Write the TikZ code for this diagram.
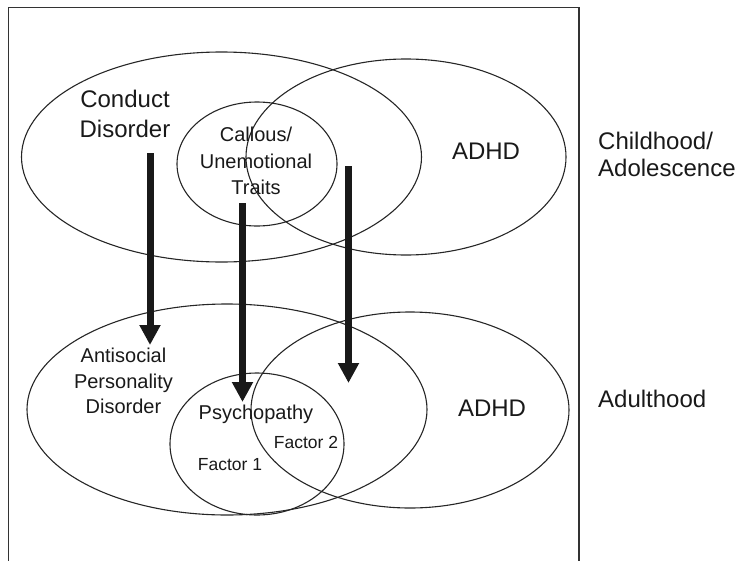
\documentclass[tikz,border=0pt]{standalone}
\usepackage{fontspec}
\setmainfont{Liberation Sans}
\usetikzlibrary{shapes.geometric,arrows.meta}
\tikzset{
  venn/.style={ellipse, draw=black!85, line width=1.1pt, inner sep=0pt, fill=none},
  big/.style={font=\fontsize{24}{28}\selectfont, inner sep=0pt, anchor=base, text=black!90},
  mid/.style={font=\fontsize{20}{24}\selectfont, inner sep=0pt, anchor=base, text=black!90},
  small/.style={font=\fontsize{17.5}{21}\selectfont, inner sep=0pt, anchor=base, text=black!90},
  bigleft/.style={big, anchor=base west},
  flow/.style={line width=7pt, black!90, -{Triangle[length=20pt,width=20pt]}}
}
\begin{document}
\begin{tikzpicture}[x=1pt,y=-1pt]
\useasboundingbox (0,0) rectangle (744,560);
% frame
\draw[line width=1.5pt, black!80] (8.5,565) -- (8.5,7.5) -- (579,7.5) -- (579,565);

% childhood ellipses
\node[venn, minimum width=400pt, minimum height=210pt] (cd) at (221.5,157) {};
\node[venn, minimum width=320pt, minimum height=196pt] (adhd1) at (406,157) {};
\node[venn, minimum width=160pt, minimum height=124pt] (cu) at (257,164) {};

% adulthood ellipses
\node[venn, minimum width=400pt, minimum height=211pt] (apd) at (227,409.5) {};
\node[venn, minimum width=318pt, minimum height=196pt] (adhd2) at (410,410) {};
\node[venn, minimum width=174pt, minimum height=142pt] (psy) at (257,444) {};

% labels childhood
\node[big] (cdA) at (125,107) {Conduct};
\node[big] (cdB) at (125,137) {Disorder};
\node[mid] (cuA) at (256,141) {Callous/};
\node[mid] (cuB) at (256,168) {Unemotional};
\node[mid] (cuC) at (256,194) {Traits};
\node[big] (adA) at (486,159) {ADHD};
\node[bigleft] (chA) at (598,149) {Childhood/};
\node[bigleft] (chB) at (598,176) {Adolescence};

% labels adulthood
\node[mid] (apA) at (123.5,362) {Antisocial};
\node[mid] (apB) at (123.5,388) {Personality};
\node[mid] (apC) at (123.5,413) {Disorder};
\node[mid] (psA) at (256,419) {Psychopathy};
\node[small] (f2) at (306,448) {Factor 2};
\node[small] (f1) at (230,470) {Factor 1};
\node[big] (adB) at (492,416) {ADHD};
\node[bigleft] (adu) at (598,407) {Adulthood};

% arrows
\coordinate (s1) at (150,153);
\coordinate (e1) at (150,345);
\coordinate (s2) at (242.5,203);
\coordinate (e2) at (242.5,402);
\coordinate (s3) at (348.5,166);
\coordinate (e3) at (348.5,383);
\draw[flow] (s1) -- (e1);
\draw[flow] (s2) -- (e2);
\draw[flow] (s3) -- (e3);
\end{tikzpicture}
\end{document}
